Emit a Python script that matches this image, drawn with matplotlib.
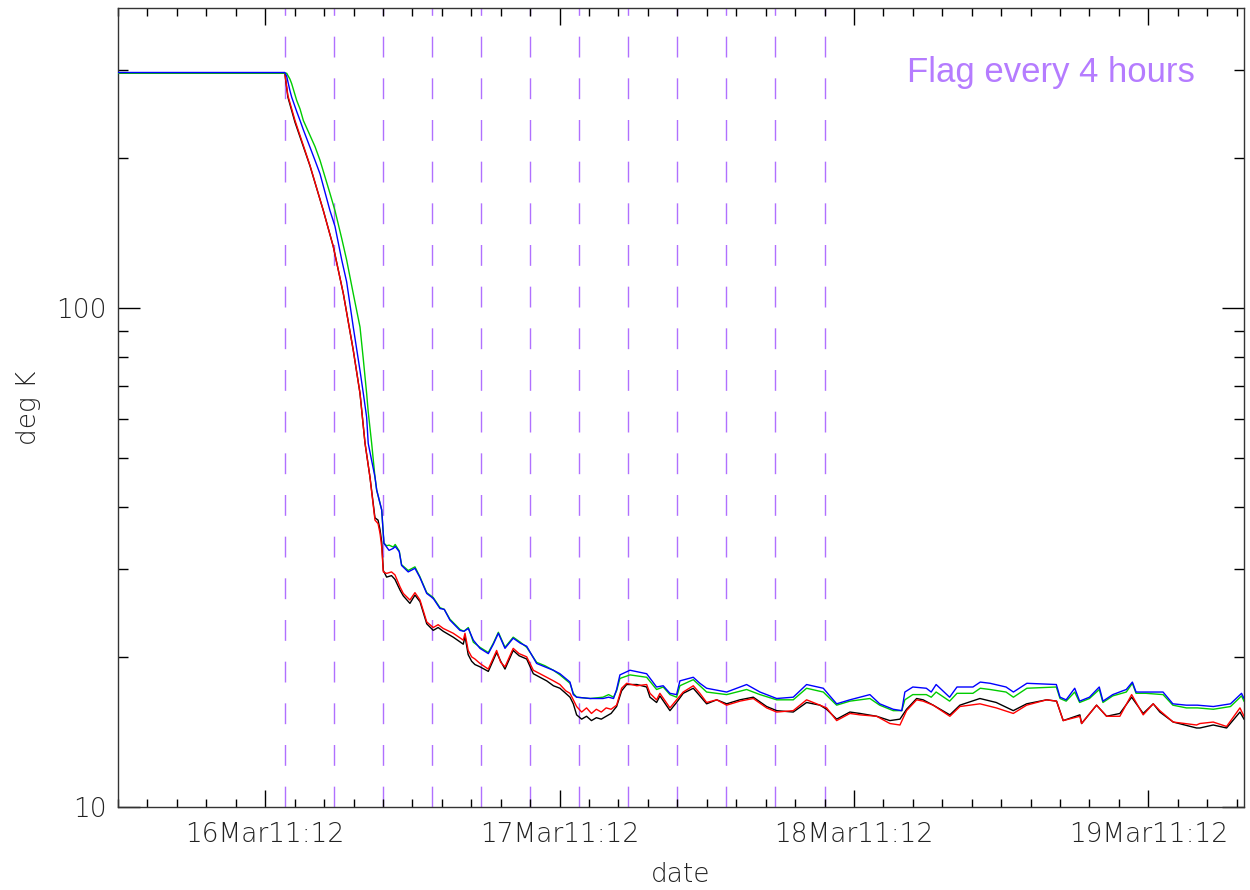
import matplotlib
matplotlib.use("Agg")
import matplotlib.pyplot as plt
from matplotlib.ticker import MultipleLocator, FixedLocator, FuncFormatter, NullFormatter
from datetime import datetime, timedelta

# time axis starts at 15Mar 23:12, data in hours since then
T0 = datetime(2011, 3, 15, 23, 12)

# black / red sensors
t_cold = [0.0, 13.6, 13.85, 14.43, 15.65, 16.74, 17.55, 18.37, 19.18, 19.73,
          20.14, 20.54, 20.95, 21.2, 21.36, 21.5, 21.63, 21.9, 22.3, 22.58,
          23.0, 23.26, 23.8, 24.21, 24.62, 25.17, 25.7, 26.1, 26.52, 27.33,
          27.8, 28.15, 28.29, 28.55, 28.83, 29.1, 29.51, 30.19, 30.87, 31.2,
          31.55, 32.22, 32.7, 33.32, 33.86, 34.4, 34.95, 35.5, 36.03, 36.5,
          36.85, 37.12, 37.39, 37.8, 38.2, 38.6, 39.0, 39.4, 39.8, 40.2,
          40.65, 41.06, 41.47, 42.3, 43.1, 43.37, 43.91, 44.18, 45.0, 45.54,
          46.08, 46.9, 47.44, 47.99, 48.81, 49.62, 50.7, 51.79, 52.88, 53.7,
          55.05, 56.14, 57.23, 57.77, 58.59, 59.67, 60.49, 61.85, 62.93, 63.75,
          64.29, 65.11, 65.64, 66.46, 67.82, 68.64, 70.27, 71.6, 72.99, 74.08,
          75.71, 76.52, 77.06, 78.42, 78.56, 79.78, 80.6, 81.68, 82.64, 83.58,
          84.4, 84.94, 86.03, 87.93, 88.2, 89.29, 90.38, 91.47, 91.8]
k_red = [296, 296, 267, 238, 193.5, 157, 133, 107, 82.4, 67.5,
         53.6, 45.9, 37.6, 37.0, 35.4, 33.2, 29.6, 29.4, 29.6, 29.2,
         27.6, 26.8, 26.0, 26.9, 26.0, 23.5, 22.9, 23.2, 22.8, 22.3,
         21.9, 21.6, 22.3, 20.6, 20.0, 19.8, 19.4, 18.9, 20.6, 19.5,
         19.1, 20.8, 20.3, 20.0, 18.8, 18.5, 18.2, 17.9, 17.6, 17.1,
         16.9, 16.4, 15.9, 15.5, 15.8, 15.4, 15.7, 15.5, 15.8, 15.7,
         16.0, 17.3, 17.7, 17.5, 17.6, 16.9, 16.4, 16.9, 15.8, 16.4,
         17.0, 17.5, 16.9, 16.2, 16.4, 16.0, 16.3, 16.5, 15.8, 15.5,
         15.6, 16.4, 16.0, 15.8, 14.9, 15.4, 15.3, 15.2, 14.7, 14.6,
         15.6, 16.4, 16.3, 16.0, 15.2, 15.9, 16.1, 15.8, 15.4, 16.0,
         16.4, 16.3, 14.9, 15.2, 14.7, 16.0, 15.2, 15.2, 16.8, 15.3,
         16.1, 15.6, 14.8, 14.6, 14.7, 14.8, 14.5, 15.8, 15.2]
k_black = [296, 296, 265, 236, 193, 157, 133, 107, 82.4, 67.5,
           53.6, 45.9, 38.0, 37.6, 36.0, 34.0, 29.8, 28.9, 29.1, 28.6,
           27.2, 26.5, 25.6, 26.6, 25.8, 23.3, 22.6, 22.9, 22.5, 21.9,
           21.5, 21.2, 22.0, 20.2, 19.6, 19.3, 19.1, 18.7, 20.4, 19.6,
           18.9, 20.6, 20.1, 19.8, 18.5, 18.2, 17.9, 17.5, 17.3, 16.9,
           16.6, 16.1, 15.3, 15.0, 15.2, 14.9, 15.1, 15.0, 15.2, 15.4,
           15.9, 17.1, 17.6, 17.6, 17.4, 16.6, 16.2, 16.7, 15.6, 16.2,
           16.9, 17.3, 16.7, 16.1, 16.4, 16.1, 16.4, 16.6, 15.9, 15.6,
           15.5, 16.2, 16.0, 15.7, 15.0, 15.5, 15.4, 15.2, 14.9, 15.0,
           15.7, 16.5, 16.4, 16.0, 15.3, 16.0, 16.5, 16.2, 15.6, 16.1,
           16.4, 16.3, 14.9, 15.3, 14.7, 16.0, 15.2, 15.4, 16.6, 15.4,
           16.1, 15.5, 14.8, 14.4, 14.4, 14.6, 14.4, 15.5, 15.0]

# green / blue sensors
t_warm = [0.0, 13.6, 13.75, 14.02, 14.16, 14.57, 14.84, 15.11, 16.06, 16.47,
          17.28, 17.69, 18.24, 18.64, 19.18, 19.73, 20.0, 20.27, 20.4, 20.68,
          20.95, 21.09, 21.5, 21.68, 21.9, 22.1, 22.44, 22.6, 22.93, 23.12,
          23.66, 24.21, 24.6, 25.17, 25.7, 26.25, 26.6, 27.06, 27.88, 28.2,
          28.56, 28.97, 29.51, 30.19, 30.6, 31.01, 31.55, 32.22, 32.8, 33.32,
          34.13, 34.8, 35.49, 36.03, 36.85, 37.12, 37.39, 38.5, 39.54, 40.0,
          40.4, 40.65, 40.92, 41.74, 43.1, 43.91, 44.45, 45.0, 45.54, 45.81,
          46.9, 47.44, 47.99, 49.62, 51.25, 52.34, 53.7, 55.05, 56.14, 57.5,
          58.59, 59.67, 61.3, 62.1, 63.2, 63.9, 64.15, 64.8, 65.9, 66.3,
          66.7, 67.8, 68.4, 69.7, 70.3, 71.1, 72.4, 73.0, 74.1, 76.5,
          76.8, 77.3, 78.0, 78.4, 79.2, 80.0, 80.3, 81.1, 82.2, 82.7,
          83.0, 83.8, 85.2, 86.0, 87.1, 88.0, 89.3, 90.7, 91.6, 91.8]
k_blue = [297, 297, 292, 273, 265, 248, 238, 228, 198, 186,
          157, 146, 125, 113, 91.7, 75, 67.5, 60.5, 53.6, 49.5,
          45.9, 43.2, 39.4, 33.8, 33.2, 32.7, 33.0, 33.3, 32.5, 30.5,
          29.6, 30.1, 28.9, 26.8, 26.2, 25.0, 24.9, 23.7, 22.6, 22.5,
          22.8, 21.6, 20.8, 20.3, 21.2, 22.3, 20.8, 21.8, 21.3, 21.0,
          19.4, 19.1, 18.8, 18.5, 17.8, 16.8, 16.6, 16.5, 16.5, 16.6,
          16.5, 17.2, 18.4, 18.8, 18.5, 17.4, 17.5, 16.9, 16.8, 17.9,
          18.2, 17.7, 17.3, 17.0, 17.6, 17.0, 16.5, 16.6, 17.6, 17.3,
          16.1, 16.4, 16.8, 16.1, 15.7, 15.6, 17.0, 17.4, 17.3, 17.0,
          17.6, 16.6, 17.4, 17.4, 17.8, 17.7, 17.4, 17.0, 17.7, 17.6,
          16.6, 16.4, 17.3, 16.3, 16.6, 17.4, 16.3, 16.8, 17.2, 17.8,
          17.0, 17.0, 17.0, 16.1, 16.0, 16.0, 15.9, 16.1, 16.9, 16.5]
k_green = [296, 296, 296, 288, 282, 261, 251, 238, 211, 198,
           170, 157, 138, 125, 107, 91.7, 79, 67.5, 62, 53.6,
           45.9, 43.2, 39.4, 33.8, 33.4, 33.5, 33.2, 33.6, 32.6, 30.6,
           29.8, 30.3, 29.0, 26.9, 26.3, 25.1, 24.9, 23.8, 22.7, 22.5,
           22.9, 21.4, 20.9, 20.4, 21.3, 22.4, 20.9, 21.9, 21.4, 20.9,
           19.5, 19.2, 18.8, 18.4, 17.7, 16.9, 16.6, 16.5, 16.6, 16.8,
           16.6, 17.1, 18.1, 18.4, 18.2, 17.2, 17.4, 16.8, 16.6, 17.5,
           18.0, 17.5, 17.0, 16.8, 17.2, 16.8, 16.4, 16.4, 17.3, 17.0,
           16.0, 16.3, 16.5, 16.0, 15.6, 15.6, 16.4, 16.8, 16.8, 16.6,
           17.0, 16.3, 16.9, 16.9, 17.3, 17.2, 17.0, 16.6, 17.3, 17.4,
           16.5, 16.3, 17.0, 16.2, 16.5, 17.2, 16.2, 16.7, 17.0, 17.7,
           16.9, 16.9, 16.8, 16.0, 15.8, 15.8, 15.7, 15.9, 16.7, 16.3]

# flag markers (hours since T0), one every 4 hours
flag_hours = [13.6, 17.6, 21.6, 25.6, 29.6, 33.6, 37.6, 41.6, 45.6, 49.6, 53.6, 57.6]

plt.rcParams["font.family"] = ["DejaVu Sans"]
plt.rcParams["font.weight"] = "light"

fig = plt.figure(figsize=(12.5, 8.9), dpi=100)
ax = fig.add_axes([0.0944, 0.0933, 0.9008, 0.8977])

for h in flag_hours:
    ax.axvline(h, color="#b070ff", lw=1.0, linestyle=(0, (15, 15)), zorder=1)

ax.plot(t_cold, k_black, color="black", lw=1.0, zorder=2)
ax.plot(t_cold, k_red, color="#ff0000", lw=1.0, zorder=3)
ax.plot(t_warm, k_green, color="#00cc00", lw=1.0, zorder=4)
ax.plot(t_warm, k_blue, color="#0000ff", lw=1.0, zorder=5)

ax.set_yscale("log")
ax.set_ylim(10, 400)
ax.set_xlim(0, 91.8)

ax.yaxis.set_major_locator(FixedLocator([10, 100]))
ax.yaxis.set_major_formatter(FuncFormatter(lambda v, p: f"{v:g}"))
ax.yaxis.set_minor_locator(FixedLocator([20, 30, 40, 50, 60, 70, 80, 90, 200, 300]))
ax.yaxis.set_minor_formatter(NullFormatter())

ax.xaxis.set_major_locator(MultipleLocator(24, offset=12))
ax.xaxis.set_minor_locator(MultipleLocator(2.4))
ax.xaxis.set_major_formatter(FuncFormatter(
    lambda v, p: (T0 + timedelta(hours=v)).strftime("%d%b%H:%M")))

ax.tick_params(which="both", direction="in", top=True, right=True, width=1,
               labelsize=19, labelcolor="#222222")
ax.tick_params(axis="x", which="major", length=12.5, pad=11)
ax.tick_params(axis="x", which="minor", length=6)
ax.tick_params(axis="y", which="major", length=15.5, pad=8)
ax.tick_params(axis="y", which="minor", length=7.5)
for s in ax.spines.values():
    s.set_color("#333333")
    s.set_linewidth(1.0)

ax.set_xlabel("date", fontsize=19, fontweight="light", color="#222222")
ax.set_ylabel("deg K", fontsize=19, fontweight="light", color="#222222")
ax.xaxis.set_label_coords(0.5, -0.069)
ax.yaxis.set_label_coords(-0.068, 0.5)

fig.text(0.7256, 0.908, "Flag every 4 hours", color="#b57cff", fontsize=25,
         family="Liberation Sans", va="baseline")

fig.savefig("out.png", dpi=100)
